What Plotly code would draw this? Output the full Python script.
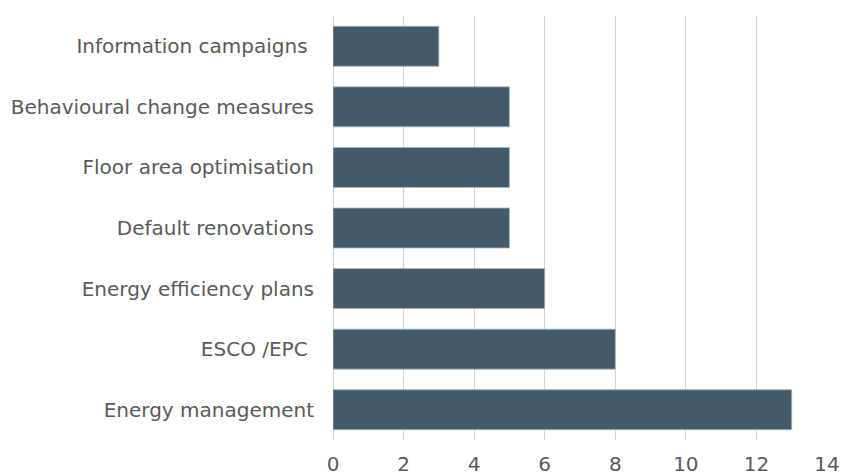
import plotly.graph_objects as go

categories = ["Energy management", "ESCO /EPC\u00a0", "Energy efficiency plans",
              "Default renovations", "Floor area optimisation",
              "Behavioural change measures", "Information campaigns\u00a0"]
values = [13, 8, 6, 5, 5, 5, 3]
x_ticks = [0, 2, 4, 6, 8, 10, 12, 14]

fig = go.Figure(go.Bar(
    x=values, y=categories, orientation="h",
    marker=dict(color="#435a69", line=dict(color="#aab4bb", width=0.8)),
    width=0.66,
))

fig.update_layout(
    width=841, height=475,
    margin=dict(l=333, r=14, t=16, b=35),
    plot_bgcolor="white", paper_bgcolor="white",
    font=dict(family="DejaVu Sans, Verdana, sans-serif", size=20, color="#5a5a5a"),
    showlegend=False,
)
fig.update_xaxes(range=[0, 14], tickvals=x_ticks, showgrid=True, gridcolor="#d4d4d4",
                 gridwidth=1, zeroline=True, zerolinecolor="#d4d4d4", zerolinewidth=1,
                 showline=False, ticks="", tickfont=dict(size=20),
                 automargin=False, ticklabelstandoff=10)
fig.update_yaxes(showgrid=False, zeroline=False, showline=False, ticks="",
                 ticklabelstandoff=18, tickfont=dict(size=20), automargin=False)

fig.write_html("out.html", config={"displayModeBar": False},
               post_script="document.body.style.margin='0';document.body.style.overflow='hidden';")
